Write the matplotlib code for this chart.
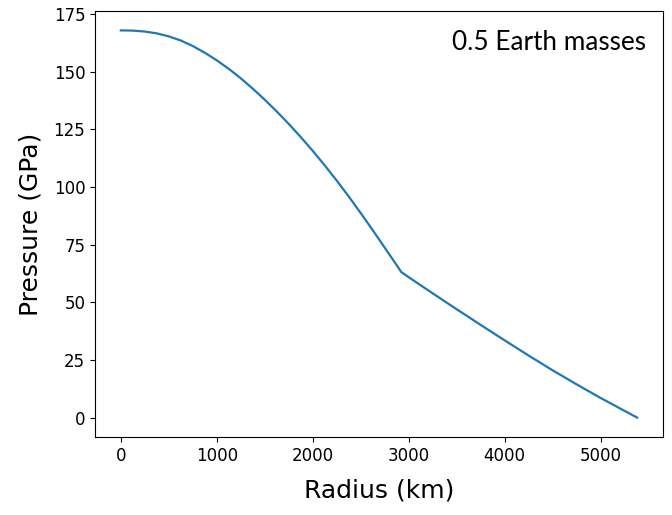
import matplotlib
matplotlib.use("Agg")
import matplotlib.pyplot as plt

# Pressure profile (radius in km, pressure in GPa)
radius = [0, 125, 250, 375, 500, 625, 750, 875, 1000, 1125, 1250, 1375,
          1500, 1625, 1750, 1875, 2000, 2125, 2250, 2375, 2500, 2625, 2750,
          2875, 2921, 3000, 3250, 3500, 3750, 4000, 4250, 4500, 4750,
          5000, 5250, 5380]
pressure = [168.0, 167.9, 167.5, 166.7, 165.4, 163.6, 161.2, 158.3, 155.0,
            151.3, 147.2, 142.7, 137.9, 132.8, 127.4, 121.7, 115.7, 109.4,
            102.8, 95.9, 88.7, 81.3, 73.7, 66.1, 63.2, 60.9, 53.9, 47.0,
            40.2, 33.5, 26.9, 20.5, 14.4, 8.5, 2.9, 0.0]
label = "0.5 Earth masses"

fig = plt.figure(figsize=(6.72, 5.15), dpi=100)
ax = fig.add_axes([0.1414, 0.1515, 0.8452, 0.8271])

ax.plot(radius, pressure, color="#1f77b4", linewidth=1.6)

ax.set_xticks([0, 1000, 2000, 3000, 4000, 5000])
ax.set_yticks([0, 25, 50, 75, 100, 125, 150, 175])
ax.tick_params(labelsize=12)
ax.set_xlabel("Radius (km)", fontsize=18, labelpad=10)
ax.set_ylabel("Pressure (GPa)", fontsize=18, labelpad=8)

ax.text(0.97, 0.908, label, transform=ax.transAxes, ha="right", va="baseline",
        fontsize=18.8, family=["Lato", "DejaVu Sans"], color="black")

fig.savefig("out.png", dpi=100)
